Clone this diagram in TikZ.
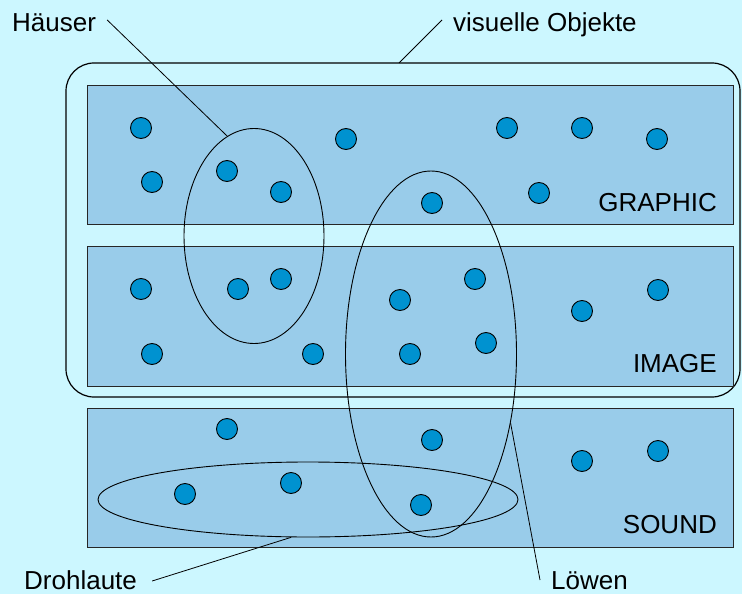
\documentclass[tikz,border=0pt]{standalone}
\usepackage{fontspec}
\setmainfont{Liberation Sans}
\usetikzlibrary{shapes.geometric}
\definecolor{bgcyan}{RGB}{204,247,255}
\definecolor{boxblue}{RGB}{153,204,234}
\definecolor{dotblue}{RGB}{0,146,208}
\tikzset{
  mediabox/.style={draw=black!85, line width=0.9pt, fill=boxblue, rectangle,
    minimum width=646pt, inner sep=0pt},
  obj/.style={circle, draw=black, line width=0.9pt, fill=dotblue,
    minimum size=21pt, inner sep=0pt},
  cluster/.style={ellipse, draw=black, line width=0.9pt, inner sep=0pt},
  lbl/.style={inner sep=0pt, font=\fontsize{26}{30}\selectfont},
  leader/.style={draw=black, line width=0.8pt},
}
\begin{document}
\begin{tikzpicture}[x=1pt, y=-1pt]
  % canvas
  \fill[bgcyan] (0,0) rectangle (742,594);
  \useasboundingbox (0,0) rectangle (742,594);

  % group of visual objects
  \node[draw=black, line width=1.2pt, rectangle, rounded corners=28pt,
        minimum width=674pt, minimum height=334pt, inner sep=0pt]
        (visual) at (403,230) {};

  % media layers
  \node[mediabox, minimum height=139pt] (graphic) at (410,154.5) {};
  \node[mediabox, minimum height=140pt] (image)   at (410,316) {};
  \node[mediabox, minimum height=139pt] (sound)   at (410,477.5) {};
  \node[lbl, anchor=base east] (graphicL) at (717,211) {GRAPHIC};
  \node[lbl, anchor=base east] (imageL)   at (717,372) {IMAGE};
  \node[lbl, anchor=base east] (soundL)   at (717,533) {SOUND};

  % objects in GRAPHIC
  \node[obj] (g1)  at (141,128) {};
  \node[obj] (g2)  at (152,182) {};
  \node[obj] (g3)  at (227,171) {};
  \node[obj] (g4)  at (281,192) {};
  \node[obj] (g5)  at (346,139) {};
  \node[obj] (g6)  at (507,128) {};
  \node[obj] (g7)  at (582,128) {};
  \node[obj] (g8)  at (657,139) {};
  \node[obj] (g9)  at (432,203) {};
  \node[obj] (g10) at (539,193) {};

  % objects in IMAGE
  \node[obj] (i1)  at (141,289) {};
  \node[obj] (i2)  at (238,289) {};
  \node[obj] (i3)  at (281,279) {};
  \node[obj] (i4)  at (152,354) {};
  \node[obj] (i5)  at (313,354) {};
  \node[obj] (i6)  at (400,300) {};
  \node[obj] (i7)  at (475,279) {};
  \node[obj] (i8)  at (410,354) {};
  \node[obj] (i9)  at (486,343) {};
  \node[obj] (i10) at (582,311) {};
  \node[obj] (i11) at (658,290) {};

  % objects in SOUND
  \node[obj] (s1) at (227,429) {};
  \node[obj] (s2) at (432,440) {};
  \node[obj] (s3) at (582,461) {};
  \node[obj] (s4) at (658,451) {};
  \node[obj] (s5) at (185,494) {};
  \node[obj] (s6) at (291,483) {};
  \node[obj] (s7) at (421,505) {};

  % semantic clusters
  \node[cluster, minimum width=140pt, minimum height=215pt] (houses) at (254,236) {};
  \node[cluster, minimum width=171pt, minimum height=366pt] (lions)  at (431,354) {};
  \node[cluster, minimum width=420pt, minimum height=75pt]  (growl)  at (308,499.5) {};

  % labels with leader lines
  \node[lbl, anchor=base west] (housesL) at (12,32)   {Häuser};
  \node[lbl, anchor=base west] (visualL) at (453,32)  {visuelle Objekte};
  \node[lbl, anchor=base west] (growlL)  at (24,589)  {Drohlaute};
  \node[lbl, anchor=base west] (lionsL)  at (551,589) {Löwen};

  \coordinate (visualTip) at (399,63);
  \draw[leader] ([xshift=11pt,yshift=12pt]housesL.base east) -- (houses.105);
  \draw[leader] ([xshift=-11pt,yshift=12pt]visualL.base west) -- (visualTip);
  \draw[leader] ([xshift=15pt,yshift=8pt]growlL.base east) -- (growl.246);
  \draw[leader] ([xshift=-11pt,yshift=9pt]lionsL.base west) -- (lions.-41.5);
\end{tikzpicture}
\end{document}
